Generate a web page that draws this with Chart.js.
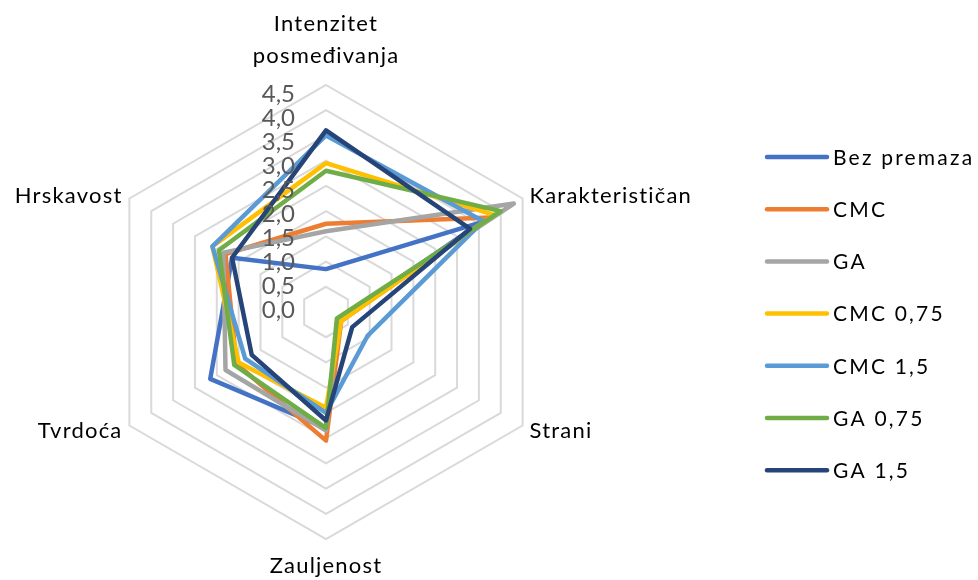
<!DOCTYPE html>
<html><head><meta charset="utf-8">
<script src="https://cdn.jsdelivr.net/npm/chart.js@4"></script>
<style>html,body{margin:0;padding:0;background:#fff}canvas{display:block}</style>
</head><body>
<canvas id="c" width="978" height="580"></canvas>
<script>
// Data
const categories = [['Intenzitet', 'posmeđivanja'], 'Karakterističan', 'Strani', 'Zauljenost', 'Tvrdoća', 'Hrskavost'];
const seriesNames = ['Bez premaza', 'CMC', 'GA', 'CMC 0,75', 'CMC 1,5', 'GA 0,75', 'GA 1,5'];
const bezPremaza = [0.85, 3.55, 0.30, 2.30, 2.65, 2.15];
const cmc        = [1.75, 3.75, 0.35, 2.55, 2.05, 2.30];
const ga         = [1.60, 4.30, 0.30, 2.35, 2.30, 2.35];
const cmc075     = [2.95, 3.85, 0.35, 1.90, 2.00, 2.60];
const cmc15      = [3.50, 3.60, 0.95, 2.00, 1.85, 2.60];
const ga075      = [2.80, 4.00, 0.25, 2.30, 2.10, 2.45];
const ga15       = [3.60, 3.30, 0.60, 2.15, 1.70, 2.15];
const tickLabels = ['0,0', '0,5', '1,0', '1,5', '2,0', '2,5', '3,0', '3,5', '4,0', '4,5'];

const seriesValues = [bezPremaza, cmc, ga, cmc075, cmc15, ga075, ga15];
const seriesColors = ['#4472C4', '#ED7D31', '#A5A5A5', '#FFC000', '#5B9BD5', '#70AD47', '#264478'];

const labelPlugin = {
  id: 'excelLabels',
  afterDatasetsDraw(chart) {
    const s = chart.scales.r;
    const ctx = chart.ctx;
    ctx.save();
    // tick labels
    ctx.letterSpacing = '0px';
    ctx.fillStyle = '#595959';
    ctx.font = '24px Lato';
    ctx.textAlign = 'right';
    ctx.textBaseline = 'middle';
    s.ticks.forEach((t, i) => {
      const d = s.getDistanceFromCenterForValue(t.value);
      ctx.fillText(tickLabels[i], s.xCenter - 31, s.yCenter - 2 - d * 0.951);
    });
    // point labels
    ctx.fillStyle = '#000';
    ctx.font = '22px Lato';
    ctx.letterSpacing = '1.2px';
    categories.forEach((lab, i) => {
      const p = s.getPointPosition(i, s.drawingArea + 8);
      const lines = Array.isArray(lab) ? lab : [lab];
      const dx = p.x - s.xCenter;
      const dy = p.y - s.yCenter;
      if (Math.abs(dx) < 1) {
        ctx.textAlign = 'center';
        ctx.textBaseline = 'alphabetic';
        if (dy < 0) {
          lines.forEach((ln, k) => ctx.fillText(ln, p.x, p.y - 14 - 32 * (lines.length - 1 - k)));
        } else {
          lines.forEach((ln, k) => ctx.fillText(ln, p.x, p.y + 26 + 32 * k));
        }
      } else {
        ctx.textAlign = dx > 0 ? 'left' : 'right';
        ctx.textBaseline = 'middle';
        lines.forEach((ln, k) => ctx.fillText(ln, p.x, p.y + 1 + 32 * (k - (lines.length - 1) / 2)));
      }
    });
    ctx.restore();
  },
  afterDraw(chart) {
    // legend on the right, built from the chart's datasets
    const ctx = chart.ctx;
    const x0 = 767, lineLen = 60, y0 = 157, step = 52.2;
    ctx.save();
    ctx.font = '21px Lato';
    ctx.letterSpacing = '2.2px';
    ctx.textAlign = 'left';
    ctx.textBaseline = 'middle';
    chart.data.datasets.forEach((ds, i) => {
      const y = y0 + step * i;
      ctx.strokeStyle = ds.borderColor;
      ctx.lineWidth = 4.5;
      ctx.lineCap = 'round';
      ctx.beginPath();
      ctx.moveTo(x0, y);
      ctx.lineTo(x0 + lineLen, y);
      ctx.stroke();
      ctx.fillStyle = '#000';
      ctx.fillText(ds.label, x0 + lineLen + 6, y + 1);
    });
    ctx.restore();
  }
};

new Chart(document.getElementById('c'), {
  type: 'radar',
  data: {
    labels: categories,
    datasets: seriesNames.map((name, i) => ({
      label: name,
      data: seriesValues[i],
      borderColor: seriesColors[i],
      backgroundColor: 'transparent',
      fill: false,
      borderWidth: 4.5,
      pointRadius: 0,
      pointHoverRadius: 0,
      borderJoinStyle: 'round',
      borderCapStyle: 'round',
      tension: 0,
      order: seriesNames.length - i
    }))
  },
  options: {
    responsive: false,
    animation: false,
    events: [],
    layout: { padding: { left: 0, right: 325, top: 85, bottom: 40 } },
    scales: {
      r: {
        min: 0,
        max: 4.5,
        ticks: { stepSize: 0.5, display: false },
        grid: { color: '#d9d9d9', lineWidth: 2 },
        angleLines: { display: false },
        pointLabels: { display: false }
      }
    },
    plugins: {
      tooltip: { enabled: false },
      legend: { display: false }
    }
  },
  plugins: [labelPlugin]
});
</script>
</body></html>
